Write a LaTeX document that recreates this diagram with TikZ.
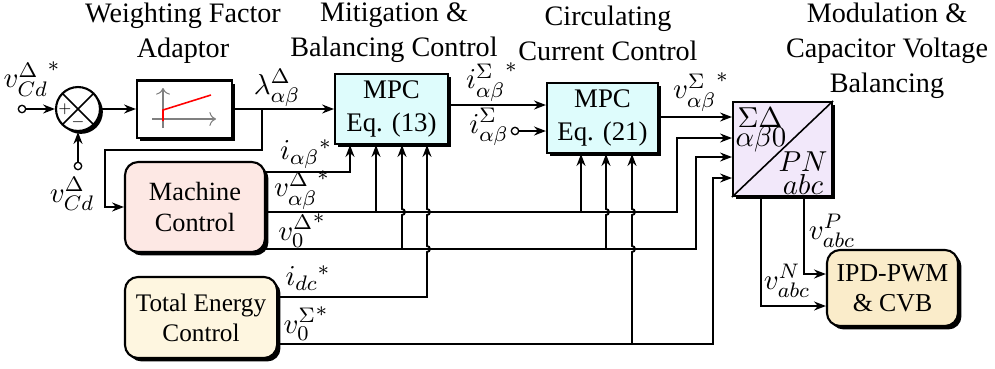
\documentclass[tikz,border=0pt]{standalone}
\usepackage{amsmath,amssymb}
\usepackage[no-math]{fontspec}
\setmainfont{Liberation Serif}
\usetikzlibrary{arrows.meta, shadows, calc}

\definecolor{machfill}{RGB}{253,232,228}
\definecolor{energyfill}{RGB}{254,246,224}
\definecolor{mpcfill}{RGB}{222,252,252}
\definecolor{convfill}{RGB}{242,232,250}
\definecolor{ipdfill}{RGB}{250,236,202}

\begin{document}
\begin{tikzpicture}[x=0.38pt, y=-0.38pt, line width=0.7pt,
    % 样式定义
    sig/.style={-{Stealth[length=4.5pt, width=3.4pt]}},
    block/.style={draw, line width=0.8pt, align=center, inner sep=0pt,
        drop shadow={shadow xshift=1.3pt, shadow yshift=-1.3pt, opacity=1, fill=black}},
    rblock/.style={block, rounded corners=5pt},
    term/.style={circle, draw, fill=white, inner sep=0pt, minimum size=2.8pt, line width=0.5pt},
    lbl/.style={inner sep=0pt, font=\fontsize{10.8}{13}\selectfont},
    heading/.style={align=center, font=\fontsize{10.7}{13.3}\selectfont}
]
    \useasboundingbox (0,0) rectangle (995,368);

    % ▼▼▼【标题区 (Titles)】▼▼▼
    \node[heading] (ttl_wfa)  at (183,33) {Weighting Factor\\Adaptor};
    \node[heading] (ttl_bal)  at (394,33) {Mitigation \&\\Balancing Control};
    \node[heading] (ttl_circ) at (608,33) {Circulating\\Current Control};
    \node[heading] (ttl_mod)  at (887,51) {Modulation \&\\Capacitor Voltage\\Balancing};

    % ▼▼▼【方块区 (Blocks)】▼▼▼
    \node[circle, draw, fill=white, minimum size=16.7pt, inner sep=0pt, line width=0.8pt,
        drop shadow={shadow xshift=1.1pt, shadow yshift=-1.1pt, opacity=1, fill=black},
        path picture={\draw[line width=0.6pt]
            (path picture bounding box.north west) -- (path picture bounding box.south east)
            (path picture bounding box.north east) -- (path picture bounding box.south west);}]
        (sum_err) at (78,109) {};
    \node[font=\tiny, inner sep=0pt] (sum_plus)  at (65,109) {$+$};
    \node[font=\tiny, inner sep=0pt] (sum_minus) at (78,122) {$-$};

    \node[block, fill=white, minimum width=36.1pt, minimum height=21.7pt] (wfa) at (184.5,109) {};
    % 折线特性 (curve)
    \draw[gray, line width=0.4pt, -{To[length=2.5pt]}] (163,128) -- (163,88);
    \draw[gray, line width=0.4pt, -{To[length=2.5pt]}] (152,119) -- (216,119);
    \draw[red, line width=0.6pt] (163,121) -- (163,110) -- (211,95);

    \node[block, fill=mpcfill, minimum width=42.9pt, minimum height=26.6pt,
        font=\fontsize{10.2}{12.2}\selectfont] (mpc_bal) at (391.5,109) {MPC\\Eq. (13)};
    \node[block, fill=mpcfill, minimum width=42.2pt, minimum height=26.6pt,
        font=\fontsize{10.2}{12.2}\selectfont] (mpc_circ) at (602.5,118) {MPC\\Eq. (21)};
    \node[block, fill=convfill, minimum width=37.6pt, minimum height=35.7pt] (conv) at (782.5,149) {};
    \draw[line width=0.6pt] (conv.south west) -- (conv.north east);
    \node[lbl] (conv_sd)  at (760,118) {$\Sigma\Delta$};
    \node[lbl] (conv_ab0) at (761,139) {$\alpha\beta0$};
    \node[lbl] (conv_pn)  at (803,162) {$PN$};
    \node[lbl] (conv_abc) at (803,184) {$abc$};

    \node[rblock, fill=machfill, minimum width=53.2pt, minimum height=34.2pt,
        font=\fontsize{10}{11.5}\selectfont] (mach_ctrl) at (195,207) {Machine\\Control};
    \node[rblock, fill=energyfill, minimum width=57.8pt, minimum height=30.8pt,
        font=\fontsize{9.6}{11.5}\selectfont] (energy_ctrl) at (201,317.5) {Total Energy\\Control};
    \node[rblock, fill=ipdfill, minimum width=49.8pt, minimum height=28.9pt,
        font=\fontsize{9.8}{11.5}\selectfont] (ipd) at (892.5,288) {IPD-PWM\\\& CVB};

    % --- 端子 (Terminals) ---
    \node[term] (term_vcd)  at (22,109) {};
    \node[term] (term_vcdm) at (78,166) {};
    \node[term] (term_isig) at (515,131) {};

    % ▼▼▼【坐标调节区 (rows / columns)】▼▼▼
    \coordinate (row_iref) at (0,172);
    \coordinate (row_vd)   at (0,212);
    \coordinate (row_v0)   at (0,249);
    \coordinate (row_idc)  at (0,297);
    \coordinate (row_vs)   at (0,344);
    \coordinate (row_isig) at (0,105);
    \coordinate (row_k1)   at (0,117);
    \coordinate (row_k2)   at (0,138);
    \coordinate (row_k3)   at (0,157);
    \coordinate (row_k4)   at (0,178);
    \coordinate (row_p)    at (0,274);
    \coordinate (row_n)    at (0,306);
    \coordinate (col_a) at (350,0);
    \coordinate (col_b) at (376,0);
    \coordinate (col_c) at (402,0);
    \coordinate (col_d) at (427,0);
    \coordinate (col_e) at (581,0);
    \coordinate (col_f) at (606,0);
    \coordinate (col_g) at (632,0);
    \coordinate (col_h) at (677,0);
    \coordinate (col_i) at (696,0);
    \coordinate (col_j) at (713,0);
    \coordinate (col_n) at (761,0);
    \coordinate (col_p) at (804,0);
    \coordinate (lam_br)    at (262,109);
    \coordinate (fb_corner) at (105,150);

    % ▼▼▼【连线区 (Wires)】▼▼▼
    \draw[sig] (term_vcd) -- (sum_err);
    \draw[sig] (term_vcdm) -- (sum_err);
    \draw[sig] (sum_err) -- (wfa);
    \draw[sig] (wfa) -- (mpc_bal);
    \draw[sig] (lam_br) |- (fb_corner) |- (mach_ctrl.west);
    \draw[sig] (mpc_bal.east |- row_isig) -- (mpc_circ.west |- row_isig);
    \draw[sig] (term_isig) -- (mpc_circ.west |- term_isig);
    \draw[sig] (mpc_circ.east |- row_k1) -- (conv.west |- row_k1);

    % 机侧输出 (Machine outputs)
    \draw[sig] (mach_ctrl.east |- row_iref) -| (mpc_bal.south -| col_a);
    \draw[sig] (mach_ctrl.east |- row_vd) -| (col_h |- row_k2) -- (conv.west |- row_k2);
    \draw[sig] (col_b |- row_vd) -- (mpc_bal.south -| col_b);
    \draw[sig] (col_e |- row_vd) -- (mpc_circ.south -| col_e);
    \draw[sig] (mach_ctrl.east |- row_v0) -| (col_i |- row_k3) -- (conv.west |- row_k3);
    \draw[sig] (col_c |- row_v0) -- ($(col_c |- row_vd)+(0,3)$)
        arc[start angle=-90, end angle=90, radius=1.14pt] -- (mpc_bal.south -| col_c);
    \draw[sig] (col_f |- row_v0) -- ($(col_f |- row_vd)+(0,3)$)
        arc[start angle=-90, end angle=90, radius=1.14pt] -- (mpc_circ.south -| col_f);

    % 能量输出 (Energy outputs)
    \draw[sig] (energy_ctrl.east |- row_idc) -| ($(col_d |- row_v0)+(0,3)$)
        arc[start angle=-90, end angle=90, radius=1.14pt] -- ($(col_d |- row_vd)+(0,3)$)
        arc[start angle=-90, end angle=90, radius=1.14pt] -- (mpc_bal.south -| col_d);
    \draw[sig] (energy_ctrl.east |- row_vs) -| (col_j |- row_k4) -- (conv.west |- row_k4);
    \draw[sig] (col_g |- row_vs) -- ($(col_g |- row_v0)+(0,3)$)
        arc[start angle=-90, end angle=90, radius=1.14pt] -- ($(col_g |- row_vd)+(0,3)$)
        arc[start angle=-90, end angle=90, radius=1.14pt] -- (mpc_circ.south -| col_g);

    % 调制 (Modulation)
    \draw[sig] (conv.south -| col_p) |- (ipd.west |- row_p);
    \draw[sig] (conv.south -| col_n) |- (ipd.west |- row_n);

    % ▼▼▼【标注区 (Labels)】▼▼▼
    \node[lbl] (l_vcd)   at (32,79)  {${v_{Cd}^{\Delta}}^{*}$};
    \node[lbl] (l_vcdm)  at (72,194) {$v_{Cd}^{\Delta}$};
    \node[lbl] (l_lam)   at (277,88) {$\lambda_{\alpha\beta}^{\Delta}$};
    \node[lbl] (l_isref) at (492,82) {${i_{\alpha\beta}^{\Sigma}}^{*}$};
    \node[lbl] (l_isig)  at (489,127) {$i_{\alpha\beta}^{\Sigma}$};
    \node[lbl] (l_vsref) at (701,92) {${v_{\alpha\beta}^{\Sigma}}^{*}$};
    \node[lbl] (l_iref)  at (306,154) {${i_{\alpha\beta}}^{*}$};
    \node[lbl] (l_vdref) at (302,190) {${v_{\alpha\beta}^{\Delta}}^{*}$};
    \node[lbl] (l_v0ref) at (302,231) {${v_0^{\Delta}}^{*}$};
    \node[lbl] (l_idc)   at (308,278) {${i_{dc}}^{*}$};
    \node[lbl] (l_vs0)   at (306,324) {${v_0^{\Sigma}}^{*}$};
    \node[lbl] (l_vp)    at (832,231) {$v_{abc}^{P}$};
    \node[lbl] (l_vn)    at (787,281) {$v_{abc}^{N}$};

\end{tikzpicture}
\end{document}
